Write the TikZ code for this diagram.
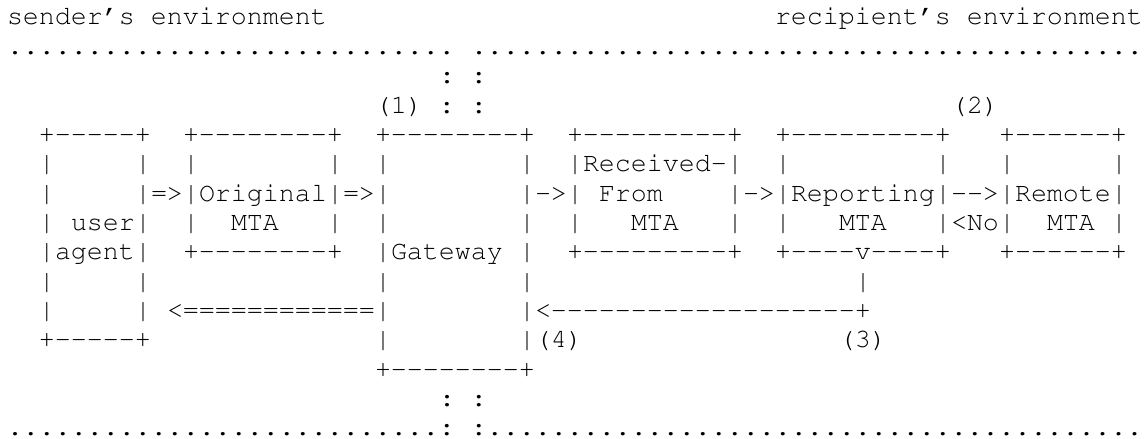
\documentclass[tikz,border=0pt]{standalone}
\usepackage[T1]{fontenc}
\usepackage{courier}
\usepackage{tikz}

\newcommand\rep[2]{\foreach\q in {1,...,#1}{#2}}
\newcommand\edgeln[1]{+\rep{#1}{-}+}
\frenchspacing

\begin{document}
\begin{tikzpicture}[
  x=8pt, y=-14.675pt,
  every node/.style={anchor=base west, inner sep=0pt, outer sep=0pt,
    font=\fontsize{13.33}{14.675}\selectfont\ttfamily}
]
\path[use as bounding box, fill=white] (0pt,0pt) rectangle (574pt,-219.5pt);
\begin{scope}[shift={(3.5pt,-12.5pt)}]
% environments and borders
\node (sndenv) at (0,0) {sender's environment};
\node (rcpenv) at (48,0) {recipient's environment};
\node (dotsl) at (0,1) {\rep{28}{.}};
\node (dotsr) at (29,1) {\rep{42}{.}};
\node (bordtop) at (27,2) {:~:};
\node (markone) at (23,3) {(1)~:~:};
\node (marktwo) at (59,3) {(2)};
% box tops
\node (uatop) at (2,4) {\edgeln{5}};
\node (omtop) at (11,4) {\edgeln{8}};
\node (gwtop) at (23,4) {\edgeln{8}};
\node (rftop) at (35,4) {\edgeln{9}};
\node (rptop) at (48,4) {\edgeln{9}};
\node (rmtop) at (62,4) {\edgeln{6}};
% box sides
\foreach \lc/\rc/\bt in {2/8/10, 11/20/7, 23/32/11, 35/45/7, 48/58/7, 62/69/7}
  \foreach \row in {5,...,\bt} {
    \node (bar-\lc-\row) at (\lc,\row) {|};
    \node (bar-\rc-\row) at (\rc,\row) {|};
  }
% box labels
\node (rftxt) at (36,5) {Received-};
\node (omtxt) at (12,6) {Original};
\node (rftxtb) at (37,6) {From};
\node (rptxt) at (49,6) {Reporting};
\node (rmtxt) at (63,6) {Remote};
\node (uatxt) at (4,7) {user};
\node (omtxtb) at (14,7) {MTA};
\node (rftxtc) at (39,7) {MTA};
\node (rptxtb) at (52,7) {MTA};
\node (rmtxtb) at (65,7) {MTA};
\node (uatxtb) at (3,8) {agent};
\node (gwtxt) at (24,8) {Gateway};
% arrows
\node (ua-om) at (9,6) {=>};
\node (om-gw) at (21,6) {=>};
\node (gw-rf) at (33,6) {->};
\node (rf-rp) at (46,6) {->};
\node (rp-rm) at (59,6) {-{}->};
\node (rm-rp) at (59,7) {<No};
% box bottoms
\node (ombot) at (11,8) {\edgeln{8}};
\node (rfbot) at (35,8) {\edgeln{9}};
\node (rpbot) at (48,8) {+\rep{4}{-}v\rep{4}{-}+};
\node (rmbot) at (62,8) {\edgeln{6}};
\node (uabot) at (2,11) {\edgeln{5}};
\node (gwbot) at (23,12) {\edgeln{8}};
% return path
\node (dsnpipe) at (53,9) {|};
\node (dsnback) at (33,10) {<\rep{19}{-}+};
\node (dsnfwd) at (10,10) {<\rep{12}{=}};
\node (markfour) at (33,11) {(4)};
\node (markthree) at (52,11) {(3)};
\node (bordbot) at (27,13) {:~:};
\node (dotsbot) at (0,14) {\rep{27}{.}:~:\rep{41}{.}};
\end{scope}
\end{tikzpicture}
\end{document}
